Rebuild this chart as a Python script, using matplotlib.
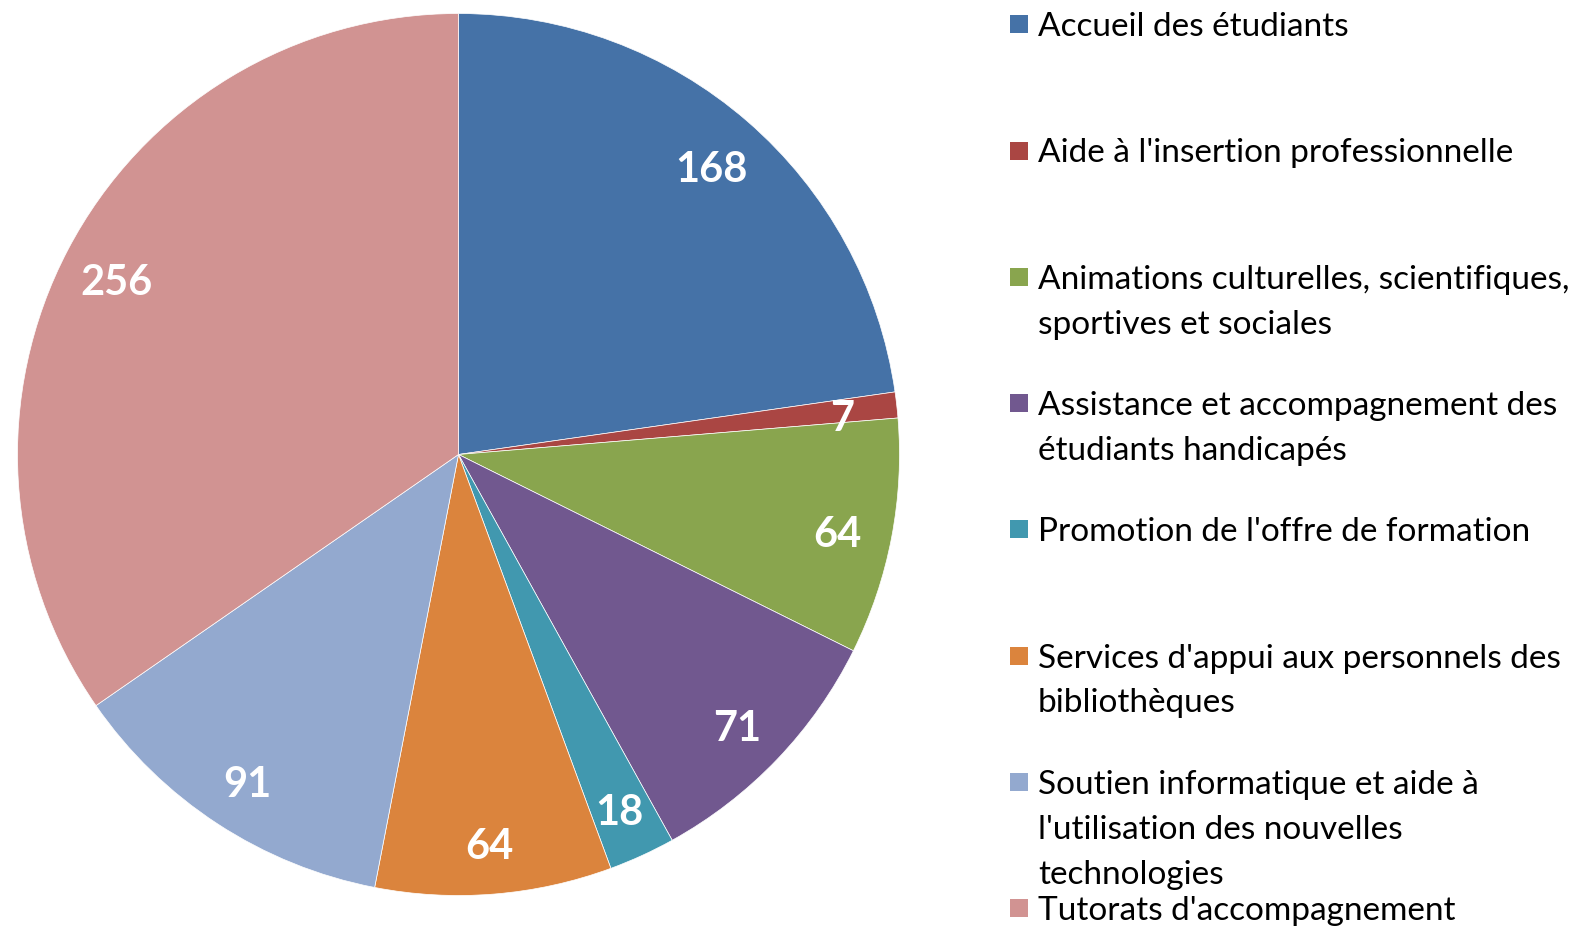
import matplotlib
matplotlib.use("Agg")
import matplotlib.pyplot as plt
import matplotlib.transforms as mtransforms
from matplotlib.patches import Rectangle

plt.rcParams['font.family'] = ['Lato', 'DejaVu Sans']

# data
labels = [
    "Accueil des étudiants",
    "Aide à l'insertion professionnelle",
    "Animations culturelles, scientifiques,\nsportives et sociales",
    "Assistance et accompagnement des\nétudiants handicapés",
    "Promotion de l'offre de formation",
    "Services d'appui aux personnels des\nbibliothèques",
    "Soutien informatique et aide à\nl'utilisation des nouvelles\ntechnologies",
    "Tutorats d'accompagnement",
]
values = [168, 7, 64, 71, 18, 64, 91, 256]
colors = ['#4572A7', '#AA4643', '#89A54E', '#71588F',
          '#4198AF', '#DB843D', '#93A9CF', '#D19392']

W, H = 1583, 926
fig = plt.figure(figsize=(W / 100, H / 100), dpi=100)

# pie: center (458.5, 454.5) px, radius 441 px
cx, cy, R = 458.5, 454.5, 441
ax = fig.add_axes([(cx - R) / W, (H - cy - R) / H, 2 * R / W, 2 * R / H])
wedges, texts, autotexts = ax.pie(
    values, colors=colors, startangle=90, counterclock=False,
    autopct=lambda p: '%d' % round(p * sum(values) / 100),
    pctdistance=0.875,
    wedgeprops=dict(edgecolor='white', linewidth=0.5),
    textprops=dict(color='white', fontsize=30, fontweight='bold'),
)
shift = mtransforms.offset_copy(ax.transData, fig=fig, x=0, y=-4, units='dots')
for t in autotexts:
    t.set_va('center_baseline')
    t.set_transform(shift)
ax.set_xlim(-1, 1)
ax.set_ylim(-1, 1)
ax.set_aspect('equal')
ax.axis('off')

# legend drawn Excel-style: fixed slot per entry
top = 24.2
slot = 126.3
line_h = 44.8
box = 18
mx = 1010
tx = 1038
for i, (lab, col) in enumerate(zip(labels, colors)):
    y = top + i * slot
    fig.patches.append(Rectangle(((mx) / W, (H - y - box / 2) / H), box / W, box / H,
                                 transform=fig.transFigure, facecolor=col,
                                 edgecolor='none'))
    for j, line in enumerate(lab.split('\n')):
        fig.text(tx / W, (H - y - j * line_h) / H, line, fontsize=24,
                 color='black', ha='left', va='center_baseline')

fig.savefig('out.png', dpi=100)
